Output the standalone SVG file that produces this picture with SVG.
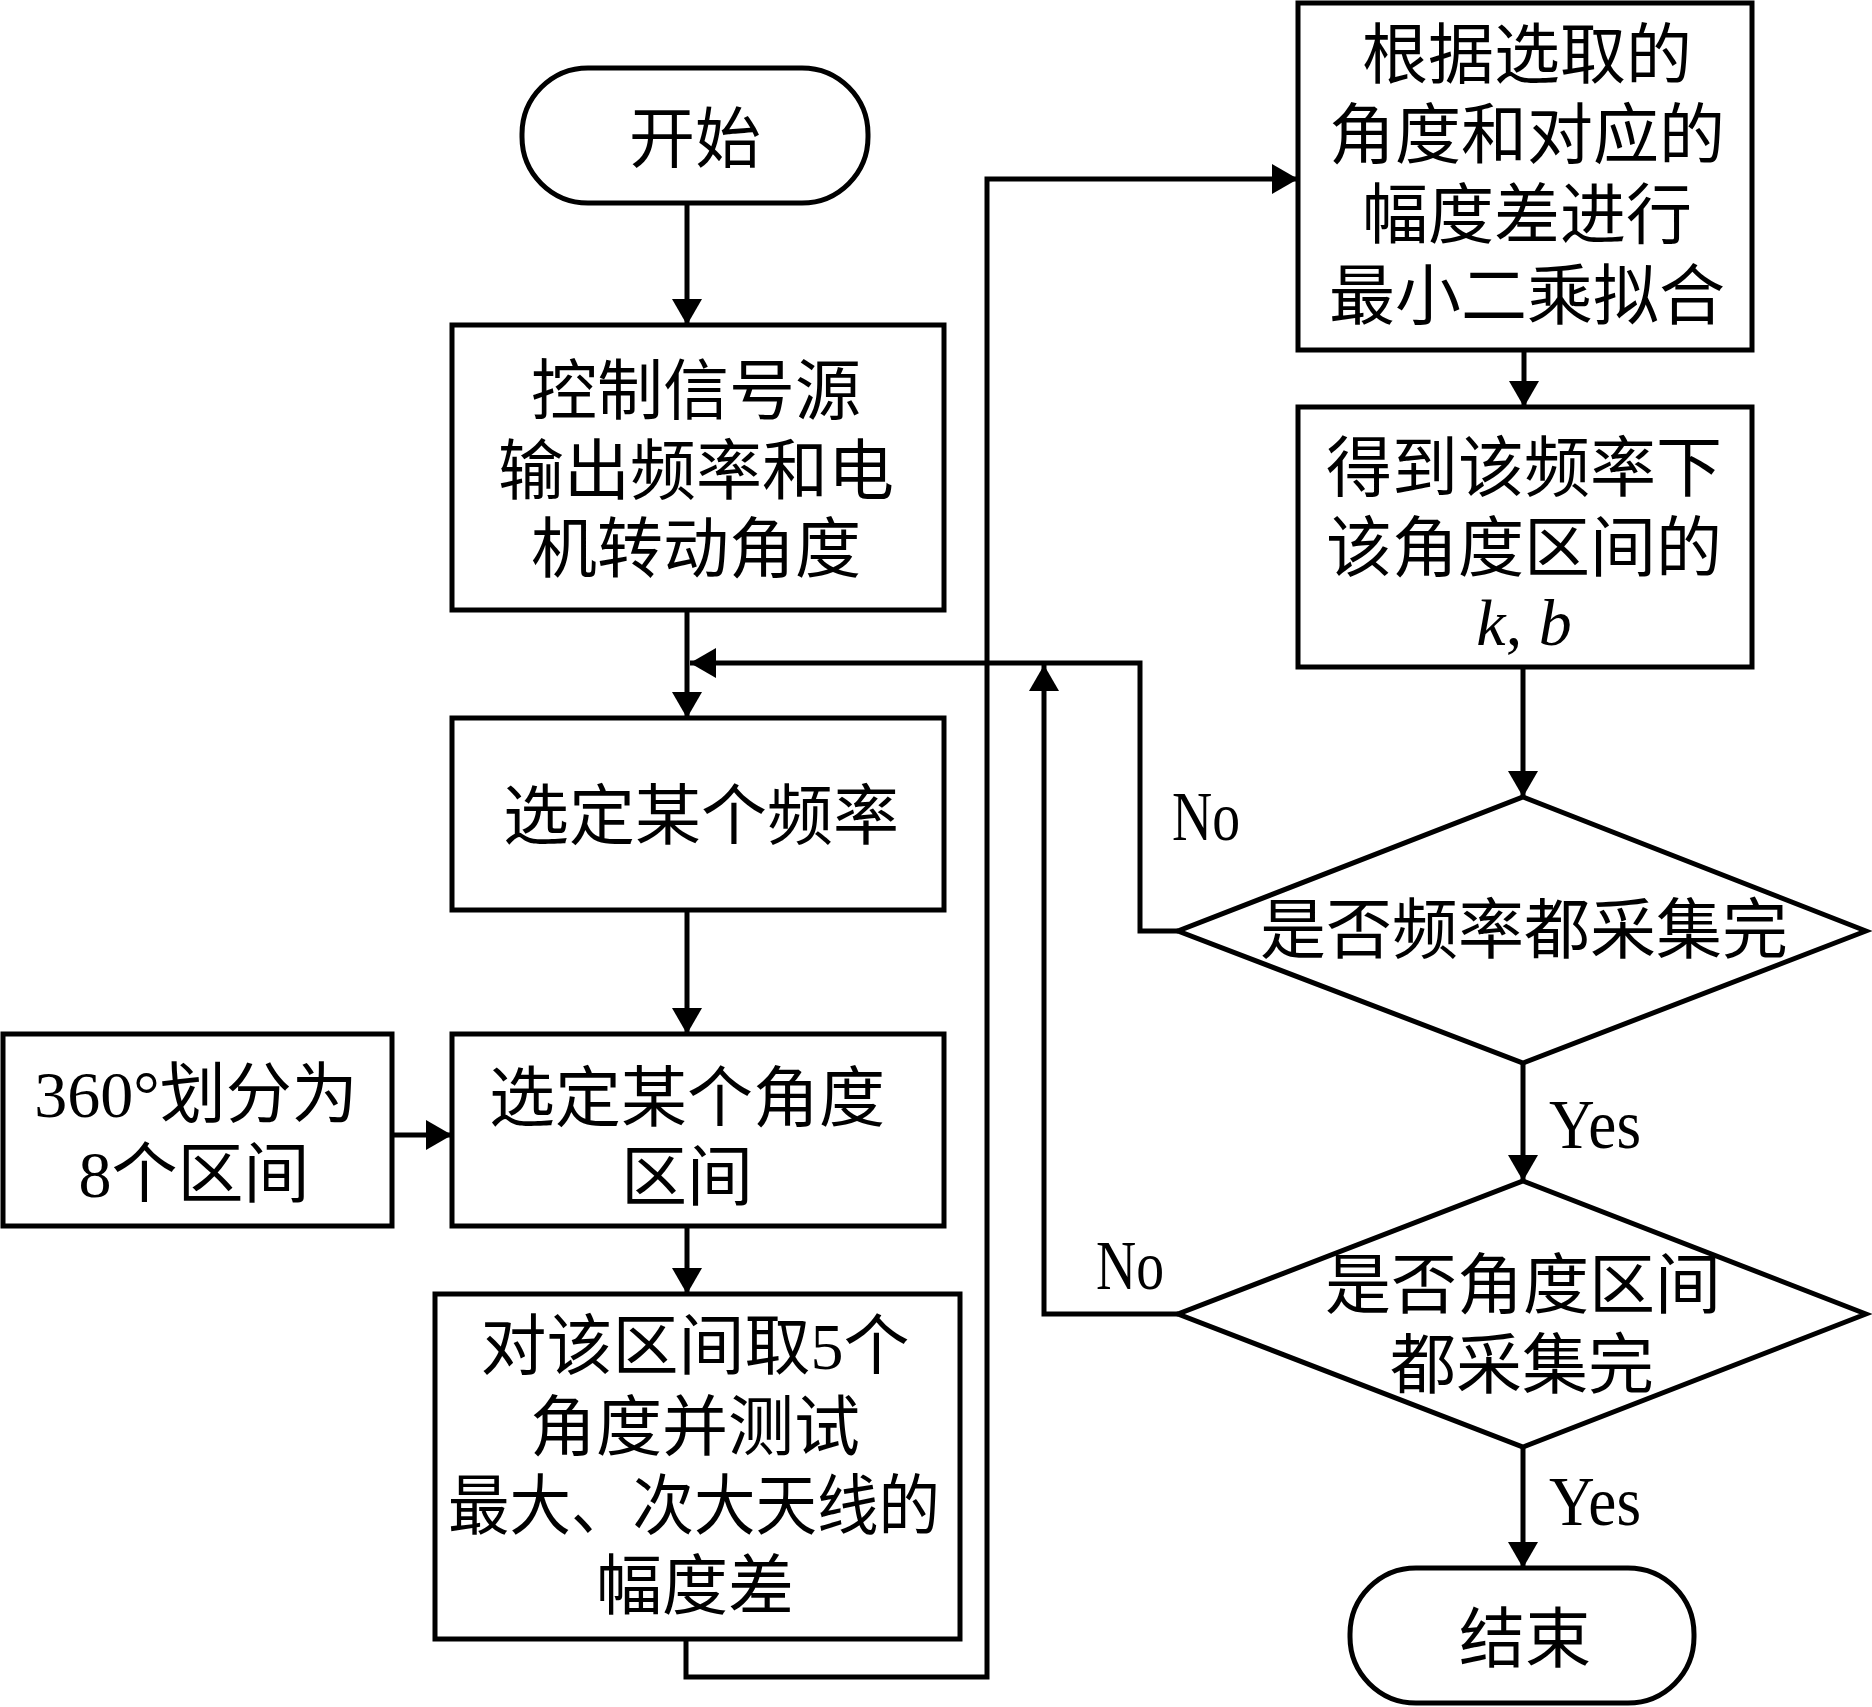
<svg xmlns="http://www.w3.org/2000/svg" width="1872" height="1707" viewBox="0 0 1872 1707">
<style>
.shape{fill:#fff;stroke:#000;stroke-width:5}
.conn{fill:none;stroke:#000;stroke-width:5}
text{font-family:"Liberation Serif","Noto Sans CJK SC",serif;font-size:66px;fill:#000;text-anchor:middle}
.lbl{text-anchor:start;font-size:70px}
</style>
<defs>
<marker id="ah" markerUnits="userSpaceOnUse" markerWidth="26" markerHeight="30" refX="26" refY="15" orient="auto">
<path d="M0,0 L26,15 L0,30 z" fill="#000"/>
</marker>
</defs>
<rect width="1872" height="1707" fill="#fff"/>
<g id="connectors">
<path class="conn" d="M687,203 V325" marker-end="url(#ah)"/>
<path class="conn" d="M687,610 V718" marker-end="url(#ah)"/>
<path class="conn" d="M1178,931 H1140 V663 H690" marker-end="url(#ah)"/>
<path class="conn" d="M687,910 V1034" marker-end="url(#ah)"/>
<path class="conn" d="M392,1135 H452" marker-end="url(#ah)"/>
<path class="conn" d="M687,1226 V1294" marker-end="url(#ah)"/>
<path class="conn" d="M686,1639 V1677 H987 V179 H1298" marker-end="url(#ah)"/>
<path class="conn" d="M1524,350 V407" marker-end="url(#ah)"/>
<path class="conn" d="M1523,667 V797" marker-end="url(#ah)"/>
<path class="conn" d="M1523,1063 V1181" marker-end="url(#ah)"/>
<path class="conn" d="M1178,1314 H1044 V665" marker-end="url(#ah)"/>
<path class="conn" d="M1523,1447 V1568" marker-end="url(#ah)"/>
<text class="lbl" x="1172" y="840" textLength="68" lengthAdjust="spacingAndGlyphs">No</text>
<text class="lbl" x="1096" y="1289" textLength="68" lengthAdjust="spacingAndGlyphs">No</text>
<text class="lbl" x="1549" y="1148" textLength="92" lengthAdjust="spacingAndGlyphs">Yes</text>
<text class="lbl" x="1549" y="1525" textLength="92" lengthAdjust="spacingAndGlyphs">Yes</text>
</g>
<g id="start">
<rect class="shape" x="522" y="68" width="346" height="135" rx="66" ry="66"/>
<text x="695" y="162">开始</text>
</g>
<g id="box1">
<rect class="shape" x="452" y="325" width="492" height="285"/>
<text x="696" y="414">控制信号源</text>
<text x="696" y="494">输出频率和电</text>
<text x="696" y="572">机转动角度</text>
</g>
<g id="box2">
<rect class="shape" x="452" y="718" width="492" height="192"/>
<text x="701" y="839">选定某个频率</text>
</g>
<g id="box0">
<rect class="shape" x="3" y="1034" width="389" height="192"/>
<text x="196" y="1117">360°划分为</text>
<text x="194" y="1197">8个区间</text>
</g>
<g id="box3">
<rect class="shape" x="452" y="1034" width="492" height="192"/>
<text x="687" y="1121">选定某个角度</text>
<text x="687" y="1200">区间</text>
</g>
<g id="box4">
<rect class="shape" x="435" y="1294" width="525" height="345"/>
<text x="695" y="1369">对该区间取5个</text>
<text x="695" y="1450">角度并测试</text>
<text x="694" y="1529" textLength="492" lengthAdjust="spacingAndGlyphs">最大、次大天线的</text>
<text x="695" y="1609">幅度差</text>
</g>
<g id="box5">
<rect class="shape" x="1298" y="3" width="454" height="347"/>
<text x="1527" y="78">根据选取的</text>
<text x="1527" y="158">角度和对应的</text>
<text x="1527" y="238">幅度差进行</text>
<text x="1527" y="319">最小二乘拟合</text>
</g>
<g id="box6">
<rect class="shape" x="1298" y="407" width="454" height="260"/>
<text x="1524" y="491">得到该频率下</text>
<text x="1524" y="571">该角度区间的</text>
<text x="1524" y="645" font-style="italic">k<tspan font-style="normal">,</tspan> b</text>
</g>
<g id="decision1">
<polygon class="shape" points="1523,797 1866,931 1523,1063 1178,931"/>
<text x="1524" y="953">是否频率都采集完</text>
</g>
<g id="decision2">
<polygon class="shape" points="1523,1181 1866,1314 1523,1447 1178,1314"/>
<text x="1523" y="1308">是否角度区间</text>
<text x="1522" y="1388">都采集完</text>
</g>
<g id="end">
<rect class="shape" x="1350" y="1568" width="344" height="135" rx="66" ry="66"/>
<text x="1525" y="1662">结束</text>
</g>
</svg>
